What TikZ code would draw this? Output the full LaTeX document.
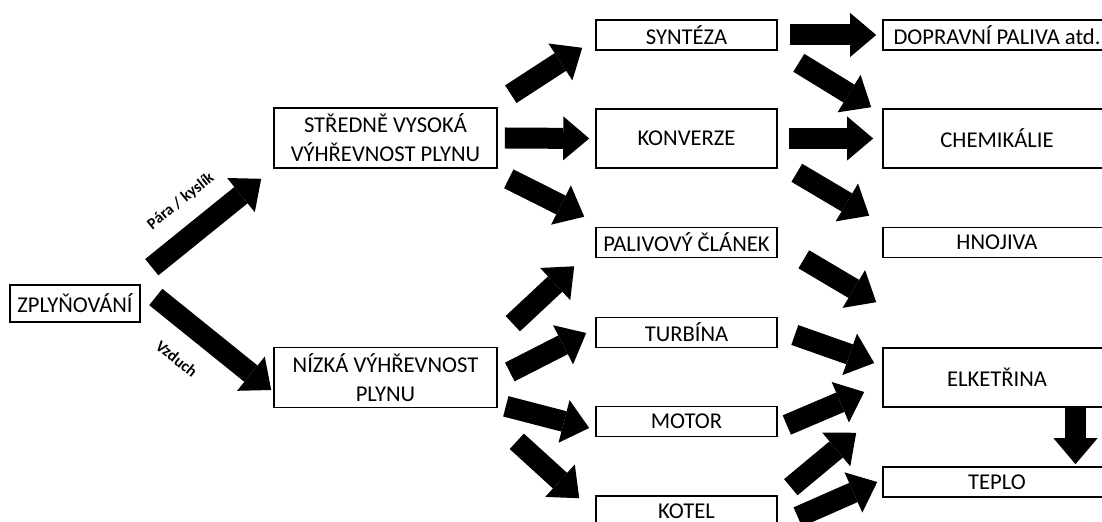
\documentclass[tikz,border=0pt]{standalone}
\usepackage{fontspec}
\setmainfont{Carlito}
\usepackage{tikz}
\usetikzlibrary{
arrows.meta,
positioning,
calc
}

\begin{document}
\begin{tikzpicture}[
x={(0.5pt,0)},
y={(0,-0.5pt)},
box/.style={
draw,
line width=0.8pt,
inner sep=1pt,
minimum width=90.5pt,
minimum height=15pt,
align=center,
font=\fontsize{11.3}{14.5}\selectfont
},
fat/.style={-{Triangle[width=22pt,length=13pt,line width=0pt]},line width=10.5pt},
lbl/.style={font=\fontsize{8}{9}\selectfont\bfseries,inner sep=0pt}
]
\useasboundingbox (0,0) rectangle (1102,522);

\node[box,minimum width=65pt,minimum height=18.5pt] (zply) at (75,303.5) {ZPLYŇOVÁNÍ};

\node[box,minimum width=111.5pt,minimum height=30pt] (stred) at (385.5,138) {STŘEDNĚ VYSOKÁ\\VÝHŘEVNOST PLYNU};
\node[box,minimum width=111.5pt,minimum height=30pt] (nizka) at (385.5,377.5) {NÍZKÁ VÝHŘEVNOST\\PLYNU};

\node[box] (syn) at (686.5,35) {SYNTÉZA};
\node[box,minimum height=29.5pt] (konv) at (686.5,138.5) {KONVERZE};
\node[box] (pal) at (686.5,242.5) {PALIVOVÝ ČLÁNEK};
\node[box] (turb) at (686.5,332.5) {TURBÍNA};
\node[box] (motor) at (686.5,421.5) {MOTOR};
\node[box] (kotel) at (686.5,511) {KOTEL};

\node[box,minimum width=114pt] (dop) at (997,35) {DOPRAVNÍ PALIVA atd.};
\node[box,minimum width=114pt,minimum height=29.5pt] (chem) at (997,138.5) {CHEMIKÁLIE};
\node[box,minimum width=114pt] (hnoj) at (997,242.5) {HNOJIVA};
\node[box,minimum width=114pt,minimum height=29.5pt] (elek) at (997,377.5) {ELKETŘINA};
\node[box,minimum width=114pt] (teplo) at (997,482) {TEPLO};

\draw[fat] ($(zply.north east)+(11,-17)$) -- node[lbl,pos=0.455,rotate=39,yshift=16.5pt] {Pára / kyslík} ($(stred.south west)+(-12,10)$);
\draw[fat] ($(zply.east)+(15,-6.5)$) -- node[lbl,pos=0.37,rotate=-38.5,yshift=-17.5pt] {Vzduch} ($(nizka.west)+(-2,12.5)$);

\draw[fat] ($(stred.north east)+(13,-13)$) -- ($(syn.south west)+(-13,-3)$);
\draw[fat] ($(stred.east)+(7,0)$) -- ($(konv.west)+(-6,0)$);
\draw[fat] ($(stred.south east)+(11,10)$) -- ($(pal.north west)+(-11,-10)$);

\draw[fat] ($(nizka.north east)+(15,-23)$) -- ($(pal.south west)+(-21,8)$);
\draw[fat] ($(nizka.east)+(12,-5.5)$) -- ($(turb.west)+(-9,0.5)$);
\draw[fat] ($(nizka.south east)+(8,-2)$) -- ($(motor.west)+(-6,6.5)$);
\draw[fat] ($(nizka.south east)+(19,33)$) -- ($(kotel.north west)+(-16,3)$);

\draw[fat] ($(syn.east)+(12,0)$) -- ($(dop.west)+(-6,0)$);
\draw[fat] ($(syn.south east)+(21,12)$) -- ($(chem.north west)+(-11,-1)$);
\draw[fat] ($(konv.east)+(11,0)$) -- ($(chem.west)+(-9,0)$);
\draw[fat] ($(konv.south east)+(19,4)$) -- ($(hnoj.north west)+(-13,-11)$);
\draw[fat] ($(pal.south east)+(26,1)$) -- ($(elek.north west)+(-6,-45)$);
\draw[fat] ($(turb.east)+(17,2.5)$) -- ($(elek.west)+(-8,-14.5)$);
\draw[fat] ($(motor.east)+(9,3.5)$) -- ($(elek.west)+(-18,14.5)$);
\draw[fat] ($(kotel.north east)+(13,-8)$) -- ($(elek.south west)+(-26,25)$);
\draw[fat] ($(kotel.east)+(20,6)$) -- ($(teplo.west)+(-5,0)$);
\draw[fat] ($(elek.south)+(78.5,0)$) -- ($(teplo.north)+(78.5,-2)$);

\end{tikzpicture}
\end{document}
